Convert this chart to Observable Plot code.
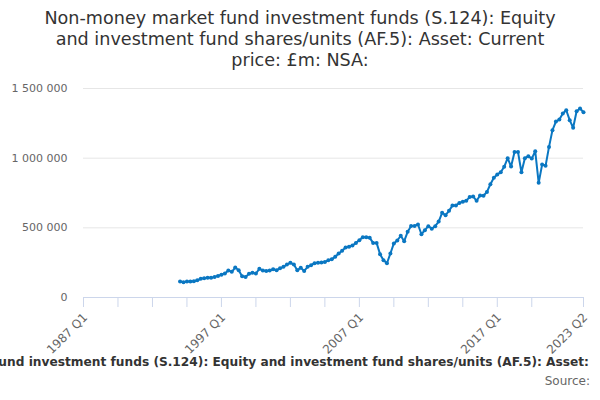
<!DOCTYPE html>
<html>
<head>
<meta charset="utf-8">
<script src="https://cdn.jsdelivr.net/npm/d3@7"></script>
<script src="https://cdn.jsdelivr.net/npm/@observablehq/plot@0.6"></script>
<style>
  body { margin:0; width:600px; height:400px; overflow:hidden; background:#fff; font-family:"DejaVu Sans", sans-serif; position:relative; }
  #title { position:absolute; top:8px; left:0; width:600px; text-align:center; font-size:17.6px; line-height:21px; color:#333; }
  #chart { position:absolute; top:80px; left:0; }
  #caption { position:absolute; right:11px; top:355px; white-space:nowrap; font-size:12.2px; font-weight:bold; color:#333; }
  #source { position:absolute; right:10px; top:374px; white-space:nowrap; font-size:12px; color:#666; }
</style>
</head>
<body>
<div id="title">Non-money market fund investment funds (S.124): Equity<br>and investment fund shares/units (AF.5): Asset: Current<br>price: £m: NSA:</div>
<div id="chart"></div>
<div id="caption">Non-money market fund investment funds (S.124): Equity and investment fund shares/units (AF.5): Asset:</div>
<div id="source">Source:</div>
<script>
// Category axis: quarters 1987 Q1 .. 2023 Q2
const firstYear = 1987;
const lastYear = 2023;
const lastQuarterOfLastYear = 2;
const quarters = [];
for (let y = firstYear; y <= lastYear; y++) {
  for (let q = 1; q <= 4; q++) {
    if (y === lastYear && q > lastQuarterOfLastYear) break;
    quarters.push(`${y} Q${q}`);
  }
}

// Series starts at 1994 Q1 (£m)
const seriesStart = "1994 Q1";
const values = [
  115000, 110000, 115000, 115000, 117000, 124000, 134000, 139000,
  141000, 141000, 148000, 155000, 163000, 172000, 194000, 184000,
  215000, 196000, 153000, 148000, 170000, 177000, 172000, 206000,
  194000, 191000, 194000, 203000, 196000, 210000, 220000, 237000,
  249000, 237000, 196000, 213000, 191000, 220000, 232000, 246000,
  249000, 251000, 254000, 268000, 275000, 292000, 316000, 335000,
  359000, 364000, 373000, 392000, 411000, 433000, 433000, 428000,
  392000, 392000, 311000, 268000, 246000, 316000, 388000, 409000,
  443000, 404000, 471000, 514000, 514000, 524000, 454000, 483000,
  512000, 493000, 512000, 545000, 608000, 591000, 622000, 660000,
  660000, 679000, 687000, 694000, 722000, 725000, 694000, 732000,
  730000, 758000, 813000, 859000, 883000, 899000, 938000, 1000000,
  940000, 1045000, 1045000, 899000, 1000000, 1014000, 997000, 1050000,
  823000, 954000, 945000, 1081000, 1201000, 1263000, 1277000, 1320000,
  1344000, 1273000, 1218000, 1337000, 1356000, 1330000
];

// Axis ticks
const yTicks = [0, 500000, 1000000, 1500000];
const xTickMarks = ["1987 Q1","1989 Q3","1992 Q1","1994 Q3","1997 Q1","1999 Q3","2002 Q1","2004 Q3","2007 Q1","2009 Q3","2012 Q1","2014 Q3","2017 Q1","2019 Q3","2023 Q2"];
const xTickLabels = ["1987 Q1","1997 Q1","2007 Q1","2017 Q1","2023 Q2"];

const startIdx = quarters.indexOf(seriesStart);
const data = values.map((v, i) => ({quarter: quarters[startIdx + i], value: v}));

const color = "#0a77c2";
const fmt = d => d3.format(",")(d).replace(/,/g, " ");

const chart = Plot.plot({
  width: 600,
  height: 287,
  marginTop: 8,
  marginLeft: 83,
  marginRight: 17,
  marginBottom: 70,
  style: {fontFamily: "DejaVu Sans, sans-serif", background: "transparent"},
  x: {type: "point", domain: quarters, padding: 0},
  y: {domain: [0, 1500000]},
  marks: [
    Plot.gridY(yTicks, {stroke: "#e6e6e6", strokeOpacity: 1}),
    Plot.axisY(yTicks, {tickSize: 0, tickPadding: 16, tickFormat: fmt, fontSize: 11, fill: "#666", label: null}),
    Plot.axisX(xTickMarks, {tickSize: 10, stroke: "#ccd6eb", tickFormat: () => "", label: null}),
    Plot.axisX(xTickLabels, {tickSize: 0, tickRotate: -45, tickPadding: 6, dx: 2, dy: 12, fill: "#666", fontSize: 12, label: null}),
    Plot.ruleY([0], {stroke: "#ccd6eb", strokeWidth: 1}),
    Plot.line(data, {x: "quarter", y: "value", stroke: color, strokeWidth: 2}),
    Plot.dot(data, {x: "quarter", y: "value", fill: color, r: 2})
  ]
});
document.getElementById("chart").appendChild(chart);
</script>
</body>
</html>
